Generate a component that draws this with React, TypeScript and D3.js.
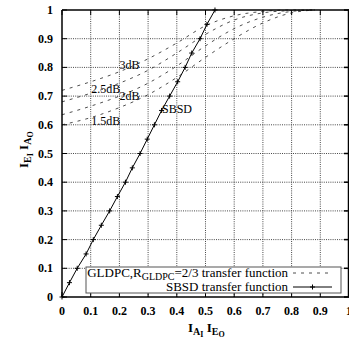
import React from "react";
import * as d3 from "d3";

const xTicks = [0, 0.1, 0.2, 0.3, 0.4, 0.5, 0.6, 0.7, 0.8, 0.9, 1];
const yTicks = [0, 0.1, 0.2, 0.3, 0.4, 0.5, 0.6, 0.7, 0.8, 0.9, 1];
const xTickLabels = ["0", "0.1", "0.2", "0.3", "0.4", "0.5", "0.6", "0.7", "0.8", "0.9", "1"];
const yTickLabels = ["0", "0.1", "0.2", "0.3", "0.4", "0.5", "0.6", "0.7", "0.8", "0.9", "1"];

const gldpcX = [0, 0.1, 0.2, 0.3, 0.4, 0.5, 0.6, 0.7, 0.8, 0.88];
const gldpc3dB = [0.72, 0.75, 0.785, 0.83, 0.885, 0.945, 0.98, 0.995, 1.0, 1.0];
const gldpc25dB = [0.68, 0.71, 0.745, 0.79, 0.85, 0.915, 0.965, 0.99, 0.998, 1.0];
const gldpc2dB = [0.635, 0.665, 0.7, 0.745, 0.805, 0.875, 0.935, 0.975, 0.995, 1.0];
const gldpc15dB = [0.6, 0.625, 0.66, 0.705, 0.765, 0.835, 0.9, 0.955, 0.99, 1.0];

const sbsdY = [0, 0.05, 0.1, 0.15, 0.2, 0.25, 0.3, 0.35, 0.4, 0.45, 0.5, 0.55, 0.6, 0.65, 0.7, 0.75, 0.8, 0.85, 0.9, 0.95, 1.0];
const sbsdX = [0, 0.026, 0.053, 0.084, 0.109, 0.137, 0.166, 0.193, 0.221, 0.245, 0.272, 0.297, 0.322, 0.347, 0.375, 0.403, 0.429, 0.452, 0.481, 0.505, 0.533];

const curveLabels = ["3dB", "2.5dB", "2dB", "1.5dB"];
const curveLabelPos = [[0.2, 0.795], [0.1, 0.71], [0.2, 0.688], [0.1, 0.6]];

const FONT = "'Liberation Serif', 'DejaVu Serif', serif";

export default function App() {
  const x = d3.scaleLinear().domain([0, 1]).range([62, 349]);
  const y = d3.scaleLinear().domain([0, 1]).range([297, 10]);
  const line = d3.line<[number, number]>().x((d) => x(d[0])).y((d) => y(d[1])).curve(d3.curveMonotoneX);
  const sbsdLine = d3.line<[number, number]>().x((d) => x(d[0])).y((d) => y(d[1]));
  const gl = [gldpc3dB, gldpc25dB, gldpc2dB, gldpc15dB];
  const sbsd: [number, number][] = sbsdX.map((v, i) => [v, sbsdY[i]]);
  const ts = { fontFamily: FONT };

  return (
    <svg width={349} height={341} style={{ position: "absolute", left: 0, top: 0, fontFamily: FONT }}>
      <rect x={0} y={0} width={349} height={341} fill="#fff" />
      {xTicks.slice(1, -1).map((t) => (
        <line key={"gx" + t} x1={x(t)} x2={x(t)} y1={y(0)} y2={y(1)} stroke="#333" strokeWidth={0.9} strokeDasharray="1,1.2" />
      ))}
      {yTicks.slice(1, -1).map((t) => (
        <line key={"gy" + t} x1={x(0)} x2={x(1)} y1={y(t)} y2={y(t)} stroke="#333" strokeWidth={0.9} strokeDasharray="1,1.2" />
      ))}
      {xTicks.map((t) => (
        <g key={"tx" + t}>
          <line x1={x(t)} x2={x(t)} y1={y(0)} y2={y(0) - 5} stroke="#000" strokeWidth={1} />
          <line x1={x(t)} x2={x(t)} y1={y(1)} y2={y(1) + 5} stroke="#000" strokeWidth={1} />
        </g>
      ))}
      {yTicks.map((t) => (
        <g key={"ty" + t}>
          <line x1={x(0)} x2={x(0) + 5} y1={y(t)} y2={y(t)} stroke="#000" strokeWidth={1} />
          <line x1={x(1)} x2={x(1) - 5} y1={y(t)} y2={y(t)} stroke="#000" strokeWidth={1.5} />
        </g>
      ))}
      {gl.map((arr, i) => (
        <path key={"gl" + i} d={line(gldpcX.map((v, j) => [v, arr[j]] as [number, number])) || ""} fill="none" stroke="#222" strokeWidth={0.8} strokeDasharray="3,5" />
      ))}
      <path d={sbsdLine(sbsd) || ""} fill="none" stroke="#000" strokeWidth={1} />
      {sbsd.map((d, i) => (
        <g key={"m" + i} stroke="#000" strokeWidth={1}>
          <line x1={x(d[0]) - 2.5} x2={x(d[0]) + 2.5} y1={y(d[1])} y2={y(d[1])} />
          <line x1={x(d[0])} x2={x(d[0])} y1={y(d[1]) - 2.5} y2={y(d[1]) + 2.5} />
        </g>
      ))}
      {curveLabels.map((s, i) => (
        <text key={"cl" + i} x={x(curveLabelPos[i][0]) + (i === 1 || i === 3 ? 0.5 : 0)} y={y(curveLabelPos[i][1])} fontSize={12} fill="#000" style={ts}>
          {s}
        </text>
      ))}
      <text x={162} y={113} fontSize={12} fill="#000" style={ts}>SBSD</text>
      <line x1={x(0)} x2={x(0)} y1={y(0)} y2={y(1)} stroke="#000" strokeWidth={1.5} />
      <line x1={x(0)} x2={x(1)} y1={y(0)} y2={y(0)} stroke="#000" strokeWidth={1.5} />
      <line x1={x(0)} x2={x(1)} y1={y(1)} y2={y(1)} stroke="#000" strokeWidth={1.5} />
      <line x1={x(1) - 0.5} x2={x(1) - 0.5} y1={y(0)} y2={y(1)} stroke="#000" strokeWidth={1.5} />
      {xTicks.map((t, i) => (
        <text key={"xl" + t} x={x(t)} y={315} fontSize={12} fontWeight="bold" textAnchor="middle" fill="#000" style={ts}>
          {xTickLabels[i]}
        </text>
      ))}
      {yTicks.map((t, i) => (
        <text key={"yl" + t} x={53} y={y(t) + 4} fontSize={12} fontWeight="bold" textAnchor="end" fill="#000" style={ts}>
          {yTickLabels[i]}
        </text>
      ))}
      <rect x={86} y={267} width={255} height={26} fill="#fff" stroke="#555" strokeWidth={1} />
      <text x={288} y={276.5} fontSize={13} textAnchor="end" fill="#000" style={ts}>
        GLDPC,R<tspan fontSize={10} dy={3}>GLDPC</tspan><tspan dy={-3}>=2/3 transfer function</tspan>
      </text>
      <line x1={293} x2={332} y1={273} y2={273} stroke="#222" strokeWidth={0.8} strokeDasharray="3,5" />
      <text x={288} y={290.5} fontSize={13} textAnchor="end" fill="#000" style={ts}>SBSD transfer function</text>
      <line x1={293} x2={332} y1={287} y2={287} stroke="#000" strokeWidth={1} />
      <line x1={310} x2={315} y1={287} y2={287} stroke="#000" />
      <line x1={312.5} x2={312.5} y1={284.5} y2={289.5} stroke="#000" />
      <text x={188} y={332} fontSize={13} fontWeight="bold" fill="#000" style={ts}>
        I<tspan fontSize={10} dy={3}>A</tspan><tspan fontSize={8} dy={2}>I</tspan>
        <tspan fontSize={13} dy={-5}> I</tspan><tspan fontSize={10} dy={3}>E</tspan><tspan fontSize={8} dy={2}>O</tspan>
      </text>
      <text transform="translate(28,168) rotate(-90)" fontSize={13} fontWeight="bold" fill="#000" style={ts}>
        I<tspan fontSize={10} dy={3}>E</tspan><tspan fontSize={8} dy={2}>I</tspan>
        <tspan fontSize={13} dy={-5}> I</tspan><tspan fontSize={10} dy={3}>A</tspan><tspan fontSize={8} dy={2}>O</tspan>
      </text>
    </svg>
  );
}
